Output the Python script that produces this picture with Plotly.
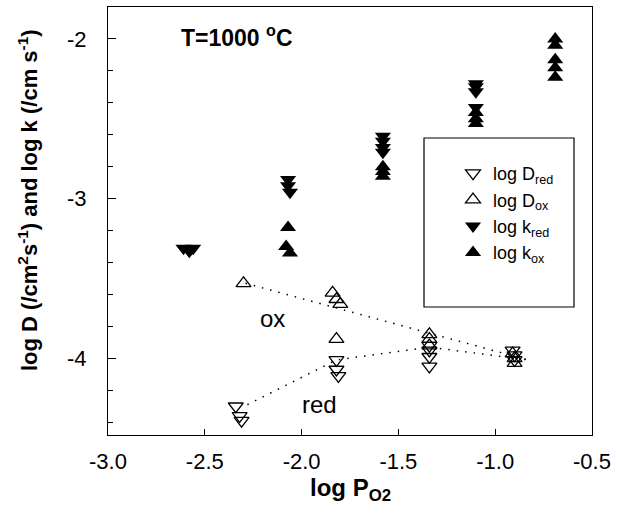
import plotly.graph_objects as go

# ---------------- data ----------------
D_red_x = [-2.34, -2.32, -2.31, -1.82, -1.82, -1.81, -1.34, -1.34, -1.34, -1.34, -0.91, -0.90, -0.90]
D_red_y = [-4.30, -4.36, -4.39, -4.01, -4.07, -4.11, -3.92, -3.95, -3.99, -4.05, -3.95, -3.98, -4.01]

D_ox_x = [-2.30, -1.84, -1.82, -1.80, -1.82, -1.34, -1.34, -1.34, -0.91, -0.90, -0.90]
D_ox_y = [-3.53, -3.59, -3.63, -3.66, -3.88, -3.85, -3.88, -3.92, -3.97, -4.00, -4.03]

k_red_x = [-2.61, -2.58, -2.56, -2.07, -2.07, -2.06, -1.58, -1.58, -1.58, -1.58, -1.10, -1.10, -1.10, -1.10]
k_red_y = [-3.31, -3.33, -3.31, -2.88, -2.92, -2.96, -2.61, -2.64, -2.68, -2.71, -2.28, -2.30, -2.33, -2.43]

k_ox_x = [-2.07, -2.08, -2.06, -1.58, -1.58, -1.58, -1.10, -1.10, -1.10, -0.69, -0.69, -0.69, -0.69, -0.69]
k_ox_y = [-3.18, -3.30, -3.34, -2.80, -2.83, -2.86, -2.46, -2.50, -2.53, -2.00, -2.04, -2.13, -2.18, -2.24]

ox_line_x = [-2.29, -1.82, -1.34, -0.83]
ox_line_y = [-3.53, -3.685, -3.84, -4.01]
red_line_x = [-2.28, -1.82, -1.34, -0.83]
red_line_y = [-4.29, -4.01, -3.93, -4.01]

x_tickvals = [-3.0, -2.5, -2.0, -1.5, -1.0, -0.5]
x_ticktext = ["-3.0", "-2.5", "-2.0", "-1.5", "-1.0", "-0.5"]
y_tickvals = [-4, -3, -2]
y_ticktext = ["-4", "-3", "-2"]

FONT = "Arial, Liberation Sans, sans-serif"

fig = go.Figure()

dot = dict(color="black", width=1.5, dash="1.5px,7px")
fig.add_trace(go.Scatter(x=ox_line_x, y=ox_line_y, mode="lines", line=dot, showlegend=False, hoverinfo="skip"))
fig.add_trace(go.Scatter(x=red_line_x, y=red_line_y, mode="lines", line=dot, showlegend=False, hoverinfo="skip"))

fig.add_trace(go.Scatter(x=D_red_x, y=D_red_y, mode="markers", name="log D<sub>red</sub>",
                         marker=dict(symbol="triangle-down-open", size=13, color="black", line=dict(width=1.3, color="black"))))
fig.add_trace(go.Scatter(x=D_ox_x, y=D_ox_y, mode="markers", name="log D<sub>ox</sub>",
                         marker=dict(symbol="triangle-up-open", size=13, color="black", line=dict(width=1.3, color="black"))))
fig.add_trace(go.Scatter(x=k_red_x, y=k_red_y, mode="markers", name="log k<sub>red</sub>",
                         marker=dict(symbol="triangle-down", size=14, color="black", line=dict(width=0))))
fig.add_trace(go.Scatter(x=k_ox_x, y=k_ox_y, mode="markers", name="log k<sub>ox</sub>",
                         marker=dict(symbol="triangle-up", size=14, color="black", line=dict(width=0))))

L, R, T, B = 108, 26, 7, 85
W, H = 618, 520
pw, ph = W - L - R, H - T - B

def px_x(p):
    return (p - L) / pw

def px_y(p):
    return (H - B - p) / ph

fig.update_layout(
    width=W, height=H,
    margin=dict(l=L, r=R, t=T, b=B),
    paper_bgcolor="white", plot_bgcolor="white",
    font=dict(family=FONT, color="black"),
    showlegend=True,
    legend=dict(x=px_x(453), y=px_y(155), xanchor="left", yanchor="top",
                bgcolor="rgba(0,0,0,0)", borderwidth=0,
                font=dict(size=18, family=FONT, color="black"), tracegroupgap=0),
    xaxis=dict(range=[-3.0, -0.5], tickvals=x_tickvals, ticktext=x_ticktext,
               ticks="inside", ticklen=6, tickwidth=1, tickcolor="black",
               showline=True, linecolor="black", linewidth=1.2, mirror=True,
               showgrid=False, zeroline=False,
               tickfont=dict(size=22, family=FONT, color="black"), ticklabelstandoff=6),
    yaxis=dict(range=[-4.48, -1.8], tickvals=y_tickvals, ticktext=y_ticktext,
               ticks="inside", ticklen=8, tickwidth=1, tickcolor="black",
               minor=dict(dtick=0.2, tick0=0, ticks="inside", ticklen=5, tickwidth=1, tickcolor="black"),
               showline=True, linecolor="black", linewidth=1.2, mirror=True,
               showgrid=False, zeroline=False,
               tickfont=dict(size=22, family=FONT, color="black"), ticklabelstandoff=16),
)

# legend box
fig.add_shape(type="rect", xref="paper", yref="paper",
              x0=px_x(424), x1=px_x(574), y0=px_y(307), y1=px_y(138),
              line=dict(color="black", width=1.2), fillcolor="rgba(0,0,0,0)", layer="above")

fig.add_annotation(x=px_x(295), y=px_y(36), xref="paper", yref="paper", xanchor="right", yanchor="middle",
                   text="<b>T=1000 <sup>o</sup>C</b>", font=dict(size=23, family=FONT, color="black"), showarrow=False)
fig.add_annotation(x=-2.15, y=-3.75, text="ox", font=dict(size=24, family=FONT, color="black"), showarrow=False)
fig.add_annotation(x=-1.91, y=-4.29, text="red", font=dict(size=24, family=FONT, color="black"), showarrow=False)
fig.add_annotation(x=0.5, y=px_y(489), xref="paper", yref="paper", xanchor="center", yanchor="middle",
                   text="<b>log P<sub>O2</sub></b>", font=dict(size=24, family=FONT, color="black"), showarrow=False)
fig.add_annotation(x=px_x(28), y=px_y(200), xref="paper", yref="paper", xanchor="center", yanchor="middle",
                   textangle=-90,
                   text="<b>log D (/cm<sup>2</sup>s<sup>-1</sup>) and log k (/cm s<sup>-1</sup>)</b>",
                   font=dict(size=22, family=FONT, color="black"), showarrow=False)

fig.write_html("out.html")
